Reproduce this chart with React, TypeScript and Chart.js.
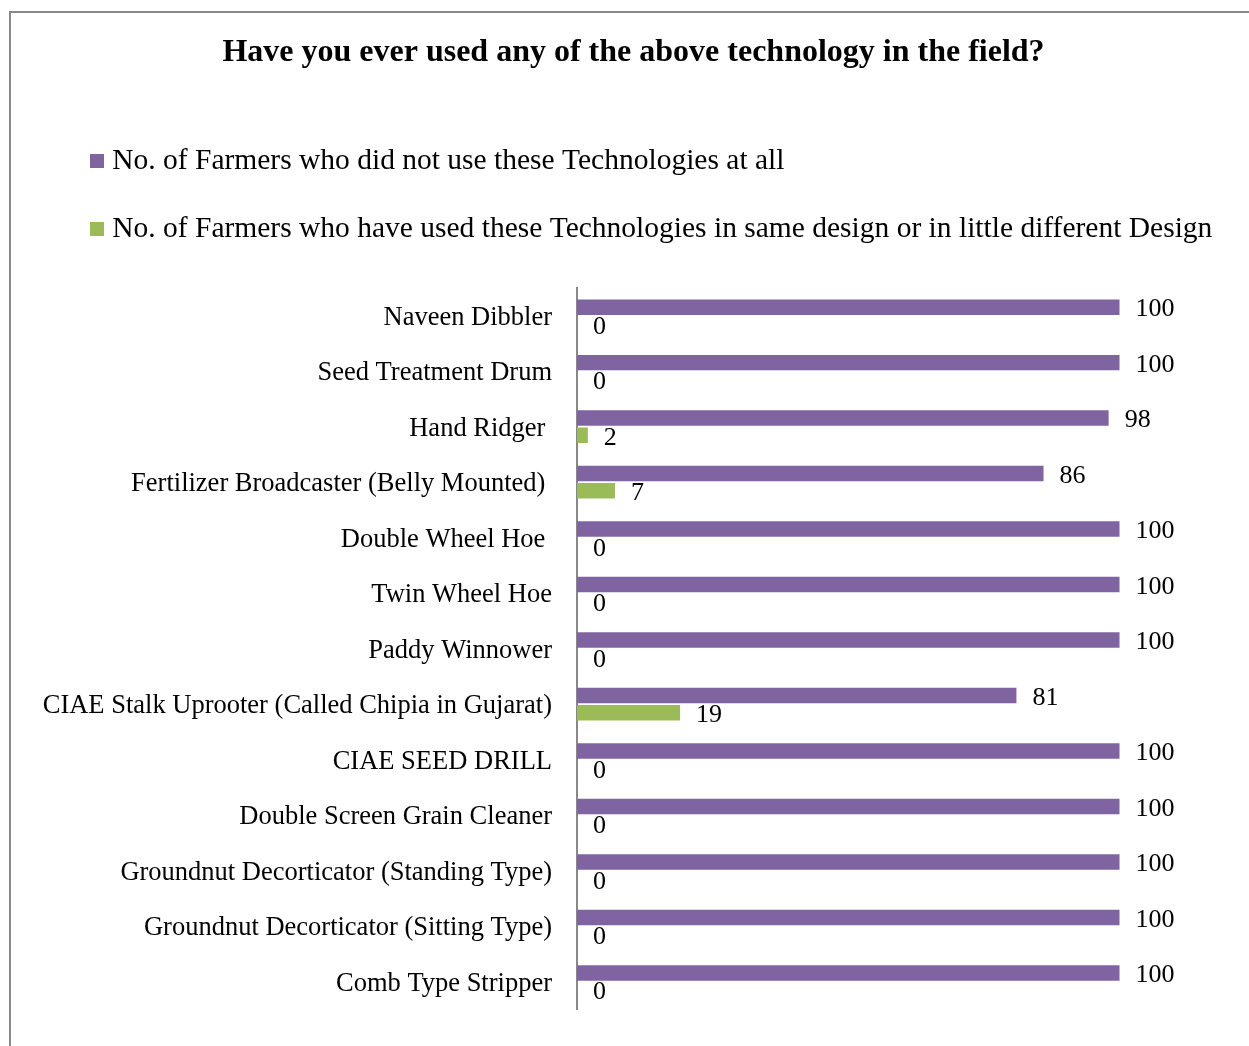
import React, { useEffect, useRef } from 'react';
import { Chart, registerables } from 'chart.js';

Chart.register(...registerables);

const titleText = 'Have you ever used any of the above technology in the field?';

const categories = [
  'Naveen Dibbler',
  'Seed Treatment Drum',
  'Hand Ridger ',
  'Fertilizer Broadcaster (Belly Mounted) ',
  'Double Wheel Hoe ',
  'Twin Wheel Hoe',
  'Paddy Winnower',
  'CIAE Stalk Uprooter (Called Chipia in Gujarat)',
  'CIAE SEED DRILL',
  'Double Screen Grain Cleaner',
  'Groundnut Decorticator (Standing Type)',
  'Groundnut Decorticator (Sitting Type)',
  'Comb Type Stripper',
];

const seriesNames = [
  'No. of Farmers who did not use these Technologies at all',
  'No. of Farmers who have used these Technologies in same design or in little different Design',
];

const notUsedValues = [100, 100, 98, 86, 100, 100, 100, 81, 100, 100, 100, 100, 100];
const usedValues = [0, 0, 2, 7, 0, 0, 0, 19, 0, 0, 0, 0, 0];

const seriesColors = ['#8064A2', '#9BBB59'];

const FONT = '"Liberation Serif", "Times New Roman", serif';

const valueLabels = {
  id: 'valueLabels',
  afterDatasetsDraw(chart: any) {
    const ctx = chart.ctx;
    ctx.save();
    ctx.font = `26px ${FONT}`;
    ctx.fillStyle = '#000';
    ctx.textAlign = 'left';
    ctx.textBaseline = 'middle';
    chart.data.datasets.forEach((ds: any, i: number) => {
      const meta = chart.getDatasetMeta(i);
      meta.data.forEach((bar: any, j: number) => {
        ctx.fillText(String(ds.data[j]), bar.x + 16, bar.y + 2.5);
      });
    });
    ctx.restore();
  },
};

// let the category labels extend to the left of the axis box without being clipped,
// and centre the title on the chart frame rather than on the plot box
const layoutTweaks = {
  id: 'layoutTweaks',
  afterLayout(chart: any) {
    const y = chart.scales.y;
    if (y) y.left = 0;
    const t = chart.titleBlock;
    if (t) t.right = t.right - 19;
  },
};

export default function App() {
  const ref = useRef<HTMLCanvasElement>(null);

  useEffect(() => {
    const chart = new Chart(ref.current as HTMLCanvasElement, {
      type: 'bar',
      data: {
        labels: categories,
        datasets: [
          {
            label: seriesNames[0],
            data: notUsedValues,
            backgroundColor: seriesColors[0],
            borderWidth: 0,
            categoryPercentage: 0.62,
            barPercentage: 0.9,
          },
          {
            label: seriesNames[1],
            data: usedValues,
            backgroundColor: seriesColors[1],
            borderWidth: 0,
            categoryPercentage: 0.62,
            barPercentage: 0.9,
          },
        ],
      },
      options: {
        indexAxis: 'y',
        responsive: true,
        maintainAspectRatio: false,
        animation: false,
        layout: { padding: { left: 58, right: 21, top: 0, bottom: 36.7 } },
        plugins: {
          title: {
            display: true,
            text: titleText,
            color: '#000',
            font: { family: FONT, size: 32, weight: 'bold' },
            padding: { top: 34, bottom: 35.35 },
          },
          legend: {
            position: 'top',
            align: 'start',
            labels: {
              color: '#000',
              font: { family: FONT, size: 29.5 },
              padding: 38.5,
              usePointStyle: true,
              pointStyle: 'rect',
              boxWidth: 1,
              boxHeight: 14,
            },
          },
          tooltip: { enabled: false },
        },
        scales: {
          x: {
            type: 'linear',
            position: 'top',
            min: 0,
            max: 120,
            grid: { display: false, drawTicks: false },
            border: { display: false },
            ticks: { display: false },
            afterFit: (s: any) => {
              s.height = 34.25;
            },
          },
          y: {
            grid: { display: false, drawTicks: false },
            border: { display: true, color: '#888888', width: 2 },
            ticks: {
              color: '#000',
              font: { family: FONT, size: 26.5 },
              padding: 25,
              labelOffset: 2,
            },
            afterFit: (s: any) => {
              s.width = 577 - 58;
              s.paddingTop = 0;
              s.paddingBottom = 0;
            },
          },
        },
      },
      plugins: [valueLabels, layoutTweaks],
    });
    return () => chart.destroy();
  }, []);

  return (
    <div
      style={{
        position: 'absolute',
        left: 0,
        top: 0,
        width: 1249,
        height: 1046,
        overflow: 'hidden',
        background: '#fff',
      }}
    >
      <div
        style={{
          position: 'absolute',
          left: 9,
          top: 11,
          width: 1400,
          height: 1200,
          borderTop: '2px solid #898989',
          borderLeft: '2px solid #898989',
        }}
      />
      <div style={{ position: 'absolute', left: 0, top: 0, width: 1249, height: 1046 }}>
        <canvas ref={ref} />
      </div>
    </div>
  );
}
